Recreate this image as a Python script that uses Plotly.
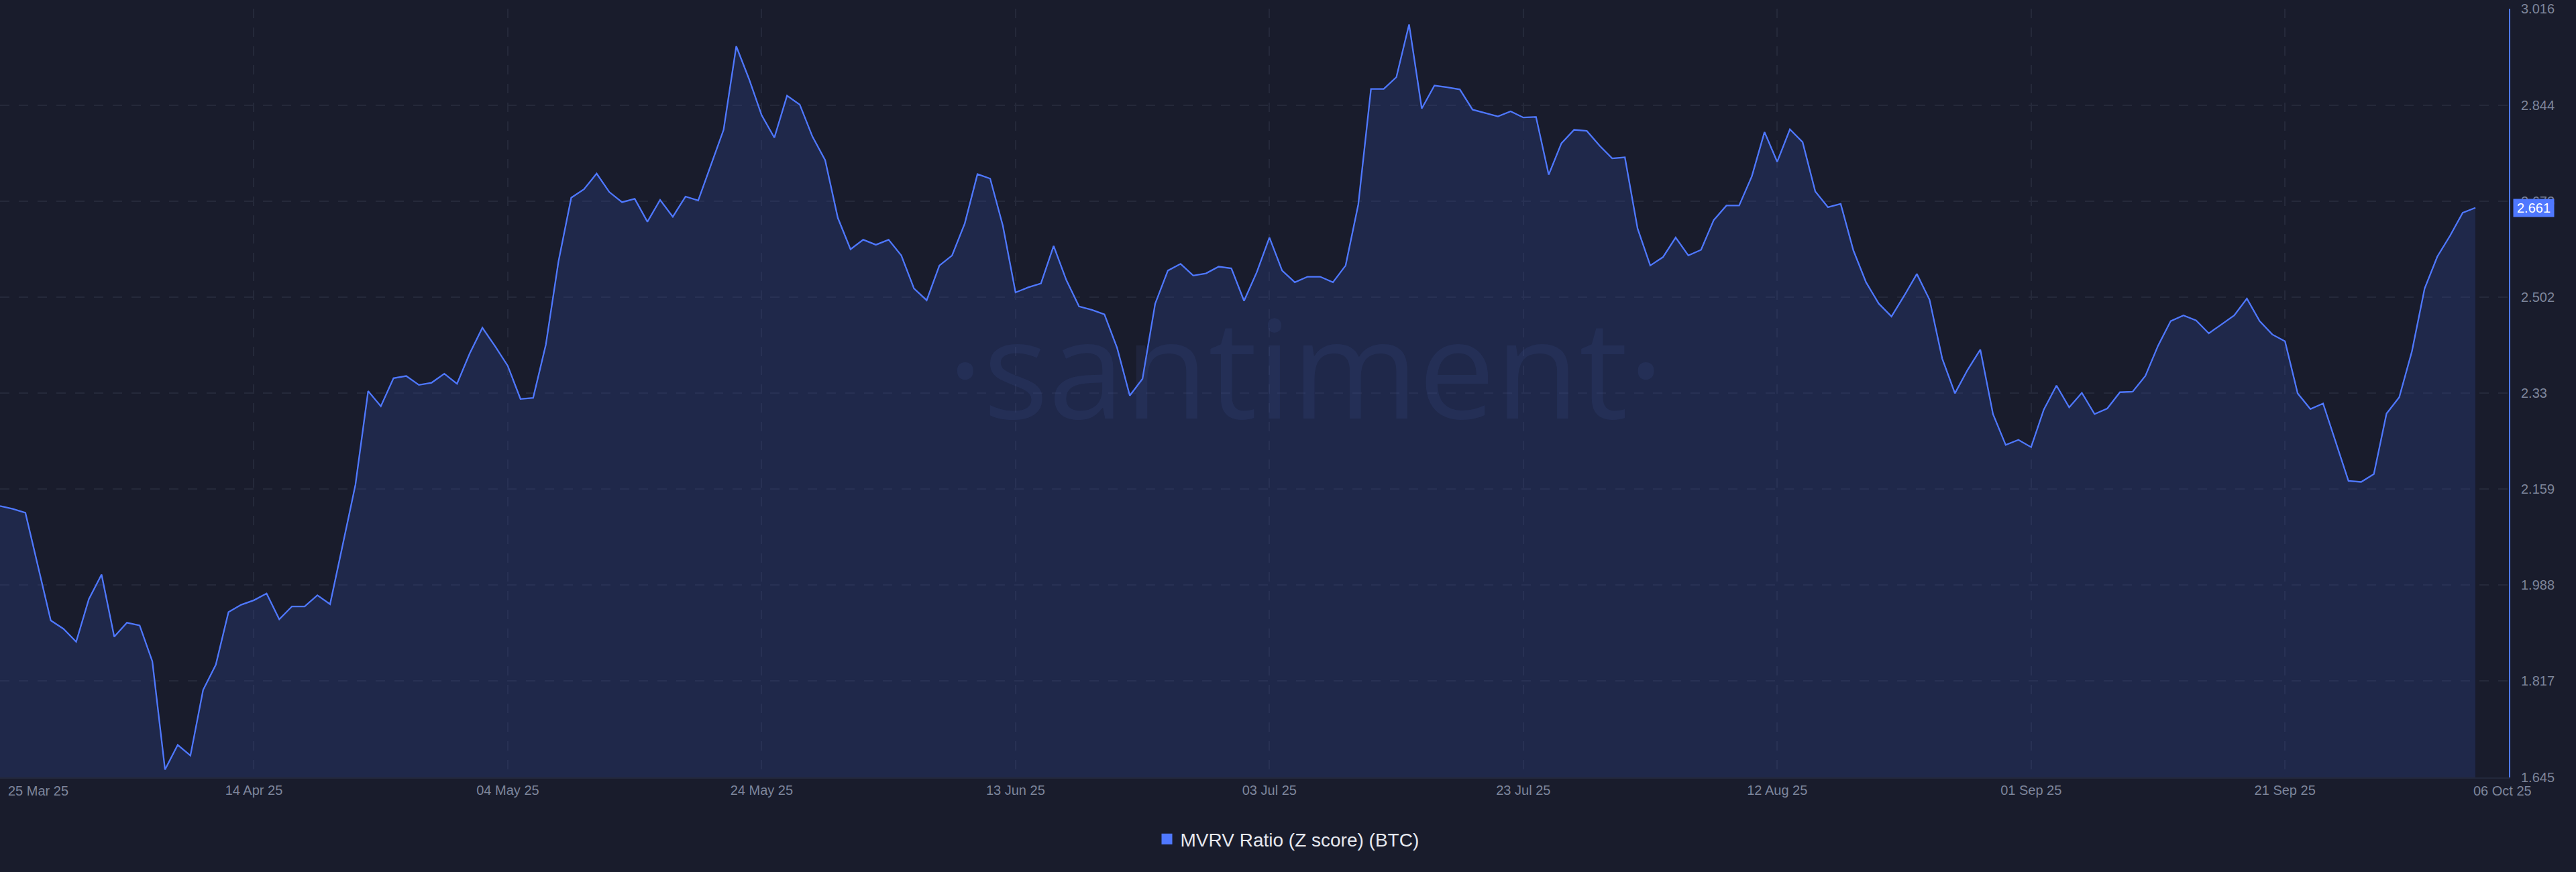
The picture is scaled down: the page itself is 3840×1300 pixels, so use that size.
import pandas as pd
import plotly.graph_objects as go

# ---- data -------------------------------------------------------------
start_date = "2025-03-25"
mvrv_values = [
    2.129, 2.124, 2.117, 2.021, 1.925, 1.910, 1.887, 1.963, 2.007, 1.896,
    1.921, 1.916, 1.852, 1.659, 1.703, 1.684, 1.801, 1.846, 1.940, 1.953,
    1.961, 1.973, 1.927, 1.950, 1.950, 1.970, 1.954, 2.060, 2.167, 2.334,
    2.307, 2.357, 2.361, 2.345, 2.349, 2.365, 2.347, 2.401, 2.447, 2.414,
    2.379, 2.320, 2.322, 2.417, 2.566, 2.679, 2.694, 2.722, 2.689, 2.671,
    2.677, 2.636, 2.675, 2.645, 2.681, 2.674, 2.736, 2.800, 2.949, 2.891,
    2.826, 2.786, 2.861, 2.845, 2.788, 2.746, 2.643, 2.587, 2.604, 2.595,
    2.604, 2.576, 2.517, 2.496, 2.558, 2.576, 2.633, 2.721, 2.713, 2.629,
    2.510, 2.519, 2.526, 2.593, 2.532, 2.485, 2.479, 2.471, 2.411, 2.326,
    2.356, 2.490, 2.549, 2.561, 2.540, 2.544, 2.556, 2.553, 2.495, 2.546,
    2.608, 2.549, 2.528, 2.538, 2.538, 2.528, 2.558, 2.667, 2.873, 2.873,
    2.894, 2.988, 2.838, 2.879, 2.876, 2.872, 2.836, 2.830, 2.824, 2.833,
    2.822, 2.823, 2.720, 2.776, 2.800, 2.798, 2.772, 2.749, 2.751, 2.624,
    2.558, 2.573, 2.608, 2.576, 2.586, 2.639, 2.665, 2.665, 2.717, 2.796,
    2.743, 2.801, 2.778, 2.690, 2.662, 2.668, 2.585, 2.528, 2.490, 2.467,
    2.504, 2.543, 2.497, 2.392, 2.330, 2.372, 2.408, 2.293, 2.238, 2.247,
    2.234, 2.301, 2.344, 2.305, 2.331, 2.293, 2.303, 2.332, 2.333, 2.361,
    2.415, 2.459, 2.469, 2.460, 2.437, 2.453, 2.469, 2.499, 2.459, 2.435,
    2.423, 2.330, 2.302, 2.312, 2.242, 2.174, 2.172, 2.186, 2.294, 2.323,
    2.405, 2.517, 2.574, 2.611, 2.652, 2.661,
]
dates = pd.date_range(start_date, periods=len(mvrv_values), freq="D")

x_tick_dates = ["2025-03-25", "2025-04-14", "2025-05-04", "2025-05-24", "2025-06-13",
                "2025-07-03", "2025-07-23", "2025-08-12", "2025-09-01", "2025-09-21"]
x_tick_labels = ["25 Mar 25", "14 Apr 25", "04 May 25", "24 May 25", "13 Jun 25",
                 "03 Jul 25", "23 Jul 25", "12 Aug 25", "01 Sep 25", "21 Sep 25"]
last_date_label = "06 Oct 25"

y_tick_vals = [1.645, 1.817, 1.988, 2.159, 2.33, 2.502, 2.673, 2.844, 3.016]
y_tick_labels = ["1.645", "1.817", "1.988", "2.159", "2.33", "2.502", "2.673", "2.844", "3.016"]

series_name = "MVRV Ratio (Z score) (BTC)"
last_value_label = "2.661"

# ---- style ------------------------------------------------------------
BG = "#191c2c"
LINE = "#4f78ff"
FILL = "rgba(53,76,164,0.25)"
GRID = "#25293a"
TICK = "#7d859b"
FONT = "Liberation Sans, Arial, sans-serif"

fig = go.Figure()
fig.add_trace(go.Scatter(
    x=dates, y=mvrv_values, mode="lines",
    line=dict(color=LINE, width=2.3),
    fill="tozeroy", fillcolor=FILL,
    showlegend=False, hoverinfo="skip",
))
# legend entry (square swatch)
fig.add_trace(go.Scatter(
    x=[None], y=[None], mode="markers",
    marker=dict(symbol="square", size=18, color=LINE),
    name=series_name, showlegend=True,
))

x_end = pd.Timestamp(dates[-1]) + pd.Timedelta(days=2.64)

fig.update_layout(
    width=3840, height=1300,
    margin=dict(l=0, r=100, t=13, b=141),
    paper_bgcolor=BG, plot_bgcolor=BG,
    font=dict(family=FONT, color=TICK, size=20),
    showlegend=True,
    legend=dict(
        orientation="h", xref="container", yref="container",
        x=0.5, xanchor="center", y=49 / 1300, yanchor="middle",
        font=dict(size=28, color="#e6e8ef", family=FONT),
        bgcolor="rgba(0,0,0,0)",
    ),
    xaxis=dict(
        type="date", range=[dates[0], x_end],
        tickvals=x_tick_dates, ticktext=[""] + x_tick_labels[1:],
        showgrid=True, gridcolor=GRID, gridwidth=2, griddash="14px,14px",
        showline=True, linecolor="#23283b", linewidth=2,
        ticks="", zeroline=False,
        tickfont=dict(size=20, color=TICK, family=FONT),
        ticklabelstandoff=0,
        fixedrange=True,
    ),
    yaxis=dict(
        side="right", range=[y_tick_vals[0], y_tick_vals[-1]],
        tickvals=y_tick_vals, ticktext=y_tick_labels,
        showgrid=True, gridcolor=GRID, gridwidth=2, griddash="14px,14px",
        showline=True, linecolor=LINE, linewidth=2,
        ticks="", zeroline=False,
        tickfont=dict(size=20, color=TICK, family=FONT),
        ticklabelstandoff=12,
        fixedrange=True,
    ),
)

annotations = [
    # watermark
    dict(text="·santiment·", xref="paper", yref="paper",
         x=1946 / 3740, y=(1159 - 545) / 1146, xanchor="center", yanchor="middle",
         showarrow=False,
         font=dict(family="Open Sans, sans-serif", size=204,
                   color="rgba(85,105,190,0.11)")),
    # first / last date labels shifted to fit
    dict(text=x_tick_labels[0], xref="x", yref="paper", x=x_tick_dates[0], y=0,
         xanchor="left", yanchor="middle", xshift=10, yshift=-20, showarrow=False,
         font=dict(size=20, color=TICK, family=FONT)),
    dict(text=last_date_label, xref="x", yref="paper", x=dates[-1], y=0,
         xanchor="center", yanchor="middle", xshift=40, yshift=-20, showarrow=False,
         font=dict(size=20, color=TICK, family=FONT)),
    # last value badge
    dict(text=last_value_label, xref="paper", yref="y", x=1, y=mvrv_values[-1],
         xanchor="left", yanchor="middle", xshift=6, showarrow=False,
         bgcolor=LINE, width=58, height=24, borderpad=1,
         font=dict(size=20, color="#ffffff", family=FONT)),
]
fig.update_layout(annotations=annotations)

fig.write_html(
    "out.html",
    config={"displayModeBar": False},
    post_script="document.body.style.margin='0';document.body.style.background='" + BG + "';",
)
